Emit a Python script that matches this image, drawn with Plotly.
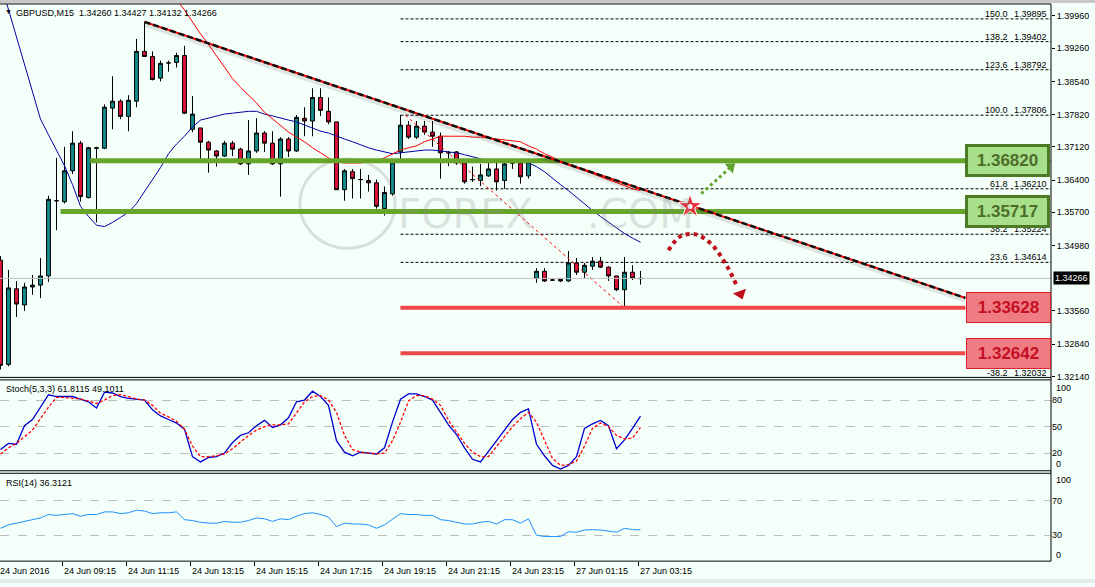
import plotly.graph_objects as go

W, H = 1095, 587

# ---------------- data ----------------
bars = list(range(81))
opens = [1.3466, 1.3240, 1.3404, 1.3369, 1.3408, 1.3412, 1.3432, 1.3595, 1.3593, 1.3660,
         1.3720, 1.3602, 1.3710, 1.3709, 1.3796, 1.3811, 1.3778, 1.3811, 1.3919, 1.3908,
         1.3861, 1.3894, 1.3895, 1.3910, 1.3750, 1.3753, 1.3722, 1.3703, 1.3692, 1.3720,
         1.3707, 1.3675, 1.3703, 1.3742, 1.3720, 1.3675, 1.3729, 1.3703, 1.3774, 1.3768,
         1.3819, 1.3789, 1.3766, 1.3619, 1.3658, 1.3641, 1.3639, 1.3634, 1.3578, 1.3610,
         1.3701, 1.3759, 1.3733, 1.3757, 1.3744, 1.3735, 1.3699, 1.3701, 1.3677, 1.3641,
         1.3639, 1.3649, 1.3664, 1.3639, 1.3677, 1.3677, 1.3649, 1.3427, 1.3442, 1.3423,
         1.3425, 1.3421, 1.3460, 1.3440, 1.3453, 1.3464, 1.3451, 1.3432, 1.3402, 1.3440,
         1.34260]
highs = [1.3475, 1.3445, 1.3421, 1.3417, 1.3434, 1.3471, 1.3606, 1.3688, 1.3712, 1.3746,
         1.3725, 1.3712, 1.3712, 1.3804, 1.3865, 1.3815, 1.3824, 1.3946, 1.3983, 1.3919,
         1.3899, 1.3899, 1.3916, 1.3931, 1.3822, 1.3753, 1.3725, 1.3705, 1.3725, 1.3725,
         1.3710, 1.3770, 1.3774, 1.3746, 1.3746, 1.3733, 1.3733, 1.3781, 1.3798, 1.3839,
         1.3839, 1.3819, 1.3766, 1.3664, 1.3664, 1.3664, 1.3651, 1.3641, 1.3626, 1.3686,
         1.3781, 1.3768, 1.3768, 1.3768, 1.3768, 1.3743, 1.3703, 1.3703, 1.3681, 1.3669,
         1.3675, 1.3679, 1.3679, 1.3679, 1.3681, 1.3686, 1.3686, 1.3449, 1.3449, 1.3425,
         1.3427, 1.3486, 1.3471, 1.3460, 1.3473, 1.3473, 1.3453, 1.3432, 1.3473, 1.3455,
         1.34427]
lows = [1.3229, 1.3236, 1.3343, 1.3356, 1.3391, 1.3384, 1.3419, 1.3531, 1.3589, 1.3653,
        1.3593, 1.3600, 1.3548, 1.3707, 1.3750, 1.3772, 1.3746, 1.3798, 1.3907, 1.3856,
        1.3854, 1.3875, 1.3884, 1.3783, 1.3744, 1.3677, 1.3656, 1.3669, 1.3690, 1.3692,
        1.3673, 1.3651, 1.3699, 1.3701, 1.3673, 1.3604, 1.3690, 1.3701, 1.3735, 1.3735,
        1.3779, 1.3761, 1.3619, 1.3595, 1.3600, 1.3600, 1.3615, 1.3578, 1.3563, 1.3606,
        1.3679, 1.3729, 1.3729, 1.3738, 1.3712, 1.3643, 1.3670, 1.3673, 1.3632, 1.3636,
        1.3627, 1.3647, 1.3617, 1.3621, 1.3664, 1.3632, 1.3643, 1.3417, 1.3419, 1.3421,
        1.3419, 1.3419, 1.3434, 1.3427, 1.3445, 1.3449, 1.3421, 1.3399, 1.3363, 1.3423,
        1.34132]
closes = [1.3238, 1.3406, 1.3371, 1.3408, 1.3412, 1.3432, 1.3598, 1.3595, 1.3660, 1.3720,
          1.3604, 1.3710, 1.3709, 1.3798, 1.3811, 1.3778, 1.3813, 1.3919, 1.3908, 1.3858,
          1.3893, 1.3894, 1.3910, 1.3785, 1.3783, 1.3722, 1.3705, 1.3692, 1.3720, 1.3707,
          1.3675, 1.3703, 1.3742, 1.3720, 1.3675, 1.3729, 1.3703, 1.3776, 1.3768, 1.3819,
          1.3791, 1.3766, 1.3619, 1.3660, 1.3643, 1.3641, 1.3634, 1.3583, 1.3613, 1.3679,
          1.3759, 1.3733, 1.3757, 1.3744, 1.3735, 1.3699, 1.3699, 1.3677, 1.3636, 1.3641,
          1.3651, 1.3664, 1.3636, 1.3675, 1.3677, 1.3647, 1.3679, 1.3442, 1.3421, 1.3423,
          1.3421, 1.3460, 1.3440, 1.3455, 1.3464, 1.3451, 1.3432, 1.3402, 1.3440, 1.3427,
          1.34266]

ma_fast = [1.4069, 1.4009, 1.3951, 1.3891, 1.3830, 1.3772, 1.3738, 1.3703, 1.3671, 1.3630,
           1.3583, 1.3561, 1.3542, 1.3539, 1.3548, 1.3559, 1.3570, 1.3589, 1.3615, 1.3641,
           1.3667, 1.3697, 1.3718, 1.3735, 1.3755, 1.3770, 1.3774, 1.3779, 1.3783, 1.3785,
           1.3787, 1.3789, 1.3789, 1.3783, 1.3779, 1.3774, 1.3770, 1.3766, 1.3759, 1.3753,
           1.3746, 1.3742, 1.3735, 1.3729, 1.3723, 1.3716, 1.3710, 1.3705, 1.3701, 1.3697,
           1.3699, 1.3701, 1.3703, 1.3705, 1.3705, 1.3703, 1.3701, 1.3699, 1.3695, 1.3690,
           1.3686, 1.3679, 1.3679, 1.3679, 1.3679, 1.3679, 1.3677, 1.3669, 1.3658, 1.3643,
           1.3630, 1.3617, 1.3602, 1.3587, 1.3574, 1.3561, 1.3548, 1.3535, 1.3524, 1.3514,
           1.3505]
ma_slow = [None] * 21 + [
           1.4063, 1.4031, 1.4009, 1.3983, 1.3957, 1.3934, 1.3910, 1.3884, 1.3860,
           1.3841, 1.3824, 1.3807, 1.3787, 1.3772, 1.3759, 1.3744, 1.3733, 1.3723, 1.3710,
           1.3699, 1.3688, 1.3679, 1.3677, 1.3677, 1.3677, 1.3679, 1.3682, 1.3688, 1.3697,
           1.3705, 1.3710, 1.3714, 1.3723, 1.3729, 1.3735, 1.3735, 1.3735, 1.3735, 1.3733,
           1.3733, 1.3731, 1.3729, 1.3727, 1.3725, 1.3723, 1.3714, 1.3707, 1.3697, 1.3690,
           1.3682, 1.3673, 1.3667, 1.3660, 1.3654, 1.3647, 1.3641, 1.3634, 1.3628, 1.3621,
           1.3617]

stoch_k = [24, 31, 30, 51, 58, 72, 86, 84, 84, 84, 81, 78, 71, 89, 88, 84, 82, 81, 80, 69,
           62, 58, 54, 47, 16, 10, 15, 16, 20, 32, 40, 43, 51, 57, 49, 52, 60, 78, 80, 90,
           84, 74, 34, 21, 17, 21, 20, 19, 26, 55, 81, 87, 87, 84, 80, 66, 52, 41, 26, 13,
           10, 22, 34, 47, 58, 66, 70, 30, 17, 6, 2, 6, 16, 48, 53, 57, 51, 25, 35, 48,
           61.8115]
stoch_d = [19, 26, 31, 38, 46, 59, 72, 83, 83, 82, 81, 79, 76, 80, 85, 86, 84, 81, 80, 74,
           65, 61, 56, 47, 28, 16, 16, 17, 19, 25, 33, 40, 46, 50, 52, 52, 53, 65, 78, 84,
           85, 80, 66, 40, 24, 21, 20, 19, 20, 34, 55, 79, 85, 85, 81, 74, 57, 44, 31, 21,
           16, 16, 27, 38, 50, 59, 66, 55, 35, 14, 6, 7, 11, 28, 48, 54, 50, 40, 36, 37,
           49.1011]
rsi = [38, 42, 44, 46, 48, 50, 54, 53, 54, 55, 52, 54, 54, 57, 57, 55, 56, 59, 58, 55,
       56, 56, 57, 48, 47, 45, 44, 44, 46, 45, 45, 47, 50, 49, 46, 49, 48, 52, 55, 56,
       54, 51, 40, 44, 43, 43, 42, 38, 42, 49, 55, 54, 54, 53, 53, 48, 47, 45, 43, 43,
       45, 46, 43, 48, 48, 44, 49, 30, 28.5, 28.5, 28.5, 34, 33.5, 36, 36.5, 36, 35, 33.5, 38, 36.5,
       36.3121]

tick_bars = [0, 8, 16, 24, 32, 40, 48, 56, 64, 72, 80]
tick_labels = ["24 Jun 2016", "24 Jun 09:15", "24 Jun 11:15", "24 Jun 13:15", "24 Jun 15:15",
               "24 Jun 17:15", "24 Jun 19:15", "24 Jun 21:15", "24 Jun 23:15", "27 Jun 01:15",
               "27 Jun 03:15"]
price_ticks = [1.39960, 1.39260, 1.38540, 1.37820, 1.37120, 1.36400, 1.35700, 1.34980,
               1.33560, 1.32840, 1.32140]
last_price = 1.34266

fib_pcts = ["150.0", "138.2", "123.6", "100.0", "76.4", "61.8", "50.0", "38.2", "23.6", "0.0", "-38.2"]
fib_levels = [1.39895, 1.39402, 1.38792, 1.37806, 1.36820, 1.36210, 1.35717, 1.35224, 1.34614,
              1.33628, 1.32032]
fib_hidden = ["76.4", "50.0", "0.0"]   # labels covered by the level boxes
fib_start_bar = 50
fib_end_bar = 78

green_levels = [1.36820, 1.35717]
green_start_bars = [11.2, 7.5]
red_levels = [1.33628, 1.32642]
red_start_bar = 50
level_end_bar = 120.6

trend_bars = [18, 120.6]
trend_prices = [1.39831, 1.33843]

# ---------------- geometry helpers ----------------
PLOT_R = 1051
XR = [-0.0625, (PLOT_R - 0.5) / 8.0]


def px(x):
    return x / W


def py(y):
    return 1 - y / H


MAIN_TOP, MAIN_BOT = 4, 380
STO_TOP, STO_BOT = 385, 474
RSI_TOP, RSI_BOT = 478, 565
p_top = 1.39960 + (16 - MAIN_TOP) / 4642.0
p_bot = 1.39960 - (MAIN_BOT - 16) / 4642.0

BG = "#F5FFFA"
FONT = "Liberation Sans, Arial, sans-serif"

fig = go.Figure()

# ---- Fib dashed lines ----
for lv in fib_levels:
    fig.add_trace(go.Scatter(x=[fib_start_bar, XR[1] + 5], y=[lv, lv], mode="lines",
                             line=dict(color="black", width=1, dash="3px,2px"),
                             hoverinfo="skip", showlegend=False, xaxis="x", yaxis="y"))
fig.add_trace(go.Scatter(x=[fib_start_bar + 0.6, fib_end_bar], y=[fib_levels[3], fib_levels[9]],
                         mode="lines", line=dict(color="red", width=1, dash="3px,3px"),
                         hoverinfo="skip", showlegend=False, xaxis="x", yaxis="y"))

# current price line
fig.add_trace(go.Scatter(x=[XR[0], XR[1]], y=[last_price, last_price], mode="lines",
                         line=dict(color="#C0C0C0", width=1), hoverinfo="skip",
                         showlegend=False, xaxis="x", yaxis="y"))

# ---- watermark ----
fig.add_shape(type="circle", xref="paper", yref="paper",
              x0=px(300), x1=px(395), y0=py(250), y1=py(160),
              line=dict(color="rgba(150,150,150,0.30)", width=3), layer="below")

# ---- Candles ----
fig.add_trace(go.Candlestick(
    x=bars, open=opens, high=highs, low=lows, close=closes,
    increasing=dict(line=dict(color="black", width=1), fillcolor="#128A8A"),
    decreasing=dict(line=dict(color="black", width=1), fillcolor="#DC143C"),
    whiskerwidth=0, hoverinfo="skip", showlegend=False, xaxis="x", yaxis="y"))

# ---- moving averages ----
fig.add_trace(go.Scatter(x=bars, y=ma_fast, mode="lines", line=dict(color="#0000A0", width=1),
                         hoverinfo="skip", showlegend=False, xaxis="x", yaxis="y"))
fig.add_trace(go.Scatter(x=bars, y=ma_slow, mode="lines", line=dict(color="#FF0000", width=1),
                         hoverinfo="skip", showlegend=False, xaxis="x", yaxis="y"))

# ---- support / resistance lines ----
for lv, sb in zip(green_levels, green_start_bars):
    fig.add_trace(go.Scatter(x=[sb, level_end_bar], y=[lv, lv], mode="lines",
                             line=dict(color="#66A42A", width=5), hoverinfo="skip",
                             showlegend=False, xaxis="x", yaxis="y"))
for lv in red_levels:
    fig.add_trace(go.Scatter(x=[red_start_bar, level_end_bar], y=[lv, lv], mode="lines",
                             line=dict(color="#EE4747", width=4), hoverinfo="skip",
                             showlegend=False, xaxis="x", yaxis="y"))

# ---- trend line ----
fig.add_trace(go.Scatter(x=trend_bars, y=[p - 0.0005 for p in trend_prices], mode="lines",
                         line=dict(color="rgba(0,0,0,0.10)", width=5), hoverinfo="skip",
                         showlegend=False, xaxis="x", yaxis="y"))
fig.add_trace(go.Scatter(x=trend_bars, y=trend_prices, mode="lines",
                         line=dict(color="#FF0000", width=2), hoverinfo="skip",
                         showlegend=False, xaxis="x", yaxis="y"))
fig.add_trace(go.Scatter(x=trend_bars, y=trend_prices, mode="lines",
                         line=dict(color="#111111", width=2.5, dash="6px,3px"), hoverinfo="skip",
                         showlegend=False, xaxis="x", yaxis="y"))

# ---- arrows ----
g_arrow_x = [87.6, 91.3]
g_arrow_y = [1.36104, 1.36686]
fig.add_trace(go.Scatter(x=g_arrow_x, y=g_arrow_y, mode="lines",
                         line=dict(color="#5FA22C", width=3, dash="dot"), hoverinfo="skip",
                         showlegend=False, xaxis="x", yaxis="y"))
fig.add_trace(go.Scatter(x=[g_arrow_x[1]], y=[g_arrow_y[1]], mode="markers",
                         marker=dict(symbol="triangle-up", size=11, angle=51, color="#5FA22C"),
                         hoverinfo="skip", showlegend=False, xaxis="x", yaxis="y"))
r_arrow_x = [83.5, 85.0, 86.9, 88.75, 90.6, 92.0]
r_arrow_y = [1.34877, 1.35180, 1.35222, 1.35028, 1.34597, 1.34120]
fig.add_trace(go.Scatter(x=r_arrow_x, y=r_arrow_y, mode="lines", line_shape="spline",
                         line=dict(color="#C0101E", width=4, dash="dot"), hoverinfo="skip",
                         showlegend=False, xaxis="x", yaxis="y"))
fig.add_trace(go.Scatter(x=[92.5], y=[1.33930], mode="markers",
                         marker=dict(symbol="triangle-up", size=12, angle=160, color="#C0101E"),
                         hoverinfo="skip", showlegend=False, xaxis="x", yaxis="y"))
fig.add_trace(go.Scatter(x=[86.2], y=[1.35825], mode="markers",
                         marker=dict(symbol="star", size=18, color="#E8303A",
                                     line=dict(color="white", width=1)),
                         hoverinfo="skip", showlegend=False, xaxis="x", yaxis="y"))
fig.add_trace(go.Scatter(x=[86.2], y=[1.35825], mode="markers",
                         marker=dict(symbol="circle", size=5, color="white"),
                         hoverinfo="skip", showlegend=False, xaxis="x", yaxis="y"))

# ---- Stochastic ----
fig.add_trace(go.Scatter(x=bars, y=stoch_k, mode="lines", line=dict(color="#0000CD", width=1.3),
                         hoverinfo="skip", showlegend=False, xaxis="x2", yaxis="y2"))
fig.add_trace(go.Scatter(x=bars, y=stoch_d, mode="lines",
                         line=dict(color="#FF0000", width=1.3, dash="3px,2px"),
                         hoverinfo="skip", showlegend=False, xaxis="x2", yaxis="y2"))
# ---- RSI ----
fig.add_trace(go.Scatter(x=bars, y=rsi, mode="lines", line=dict(color="#1E90FF", width=1),
                         hoverinfo="skip", showlegend=False, xaxis="x3", yaxis="y3"))

# ---------------- layout ----------------
common_x = dict(range=XR, showgrid=False, zeroline=False, showticklabels=False,
                domain=[0, PLOT_R / W], fixedrange=True)
fig.update_layout(
    width=W, height=H, margin=dict(l=0, r=0, t=0, b=0),
    paper_bgcolor=BG, plot_bgcolor=BG, showlegend=False,
    font=dict(family=FONT, size=9, color="black"),
    xaxis=dict(**common_x, anchor="y", rangeslider=dict(visible=False)),
    xaxis2=dict(**common_x, anchor="y2", matches="x"),
    xaxis3=dict(**common_x, anchor="y3", matches="x", ticks="outside", ticklen=4,
                tickcolor="black", tickvals=[b - 0.3 for b in tick_bars]),
    yaxis=dict(domain=[py(MAIN_BOT), py(MAIN_TOP)], range=[p_bot, p_top], side="right",
               anchor="x", tickvals=price_ticks, ticktext=["%.5f" % v for v in price_ticks],
               ticks="outside", ticklen=3, tickcolor="black", showgrid=False, zeroline=False,
               tickfont=dict(size=9, family=FONT)),
    yaxis2=dict(domain=[py(STO_BOT), py(STO_TOP)], range=[0, 100], side="right", anchor="x2",
                tickvals=[80, 50, 20], ticks="", showgrid=True, gridcolor="#BEBEBE",
                griddash="dash", gridwidth=1, zeroline=False, tickfont=dict(size=9, family=FONT)),
    yaxis3=dict(domain=[py(RSI_BOT), py(RSI_TOP)], range=[0, 100], side="right", anchor="x3",
                tickvals=[70, 30], ticks="", showgrid=True, gridcolor="#BEBEBE",
                griddash="dash", gridwidth=1, zeroline=False, tickfont=dict(size=9, family=FONT)),
)

# ---- panel borders ----
shapes = []
shapes.append(dict(type="rect", xref="paper", yref="paper", x0=0, x1=1, y0=py(3), y1=1,
                   fillcolor="#C8C8C8", line=dict(width=0)))
for yy in [MAIN_TOP, MAIN_BOT, MAIN_BOT + 2.5, STO_BOT, STO_BOT + 2.5, RSI_BOT]:
    shapes.append(dict(type="line", xref="paper", yref="paper", x0=0, x1=px(PLOT_R),
                       y0=py(yy), y1=py(yy), line=dict(color="black", width=1)))
shapes.append(dict(type="line", xref="paper", yref="paper", x0=px(PLOT_R), x1=px(PLOT_R),
                   y0=py(RSI_BOT), y1=py(MAIN_TOP), line=dict(color="black", width=1)))
shapes.append(dict(type="rect", xref="paper", yref="paper", x0=0, x1=1, y0=0, y1=py(583),
                   fillcolor="#E4ECEA", line=dict(width=0)))
for s in shapes:
    fig.add_shape(**s)

ann = []
ann.append(dict(text="\u25BC", x=px(3), y=py(12), xref="paper", yref="paper", xanchor="left",
                yanchor="middle", showarrow=False, font=dict(size=7, color="black")))
ann.append(dict(text="GBPUSD,M15\u00a0\u00a01.34260 1.34427 1.34132 1.34266", x=px(14), y=py(13),
                xref="paper", yref="paper", xanchor="left", yanchor="middle", showarrow=False,
                font=dict(size=9, color="black")))
# watermark
ann.append(dict(text="FOREX", x=px(465), y=py(190), xref="paper", yref="paper", showarrow=False,
                font=dict(size=40, color="rgba(140,140,140,0.25)", family="DejaVu Sans")))
ann.append(dict(text=".COM", x=px(640), y=py(190), xref="paper", yref="paper", showarrow=False,
                font=dict(size=40, color="rgba(140,140,140,0.25)", family="DejaVu Sans")))
# fib labels
for pct, lv in zip(fib_pcts, fib_levels):
    if pct in fib_hidden:
        continue
    if lv > p_bot:
        kw = dict(y=lv, yref="y", yanchor="bottom", yshift=-2)
    else:
        kw = dict(y=py(376), yref="paper", yanchor="middle")
    ann.append(dict(text=pct, x=px(1010), xref="paper", xanchor="right",
                    showarrow=False, font=dict(size=9), **kw))
    ann.append(dict(text="%.5f" % lv, x=px(1049), xref="paper", xanchor="right",
                    showarrow=False, font=dict(size=9), **kw))
# level boxes
for lv in green_levels:
    ann.append(dict(text="<b>%.5f</b>" % lv, x=px(1007.5), y=lv, xref="paper", yref="y",
                    xanchor="center", yanchor="middle",
                    showarrow=False, bgcolor="#A8DF8A", bordercolor="#4C7A25", borderwidth=3,
                    borderpad=0, width=79, height=27,
                    font=dict(size=17, color="#4D6D2A", family=FONT)))
for lv in red_levels:
    ann.append(dict(text="<b>%.5f</b>" % lv, x=px(1008.5), y=lv, xref="paper", yref="y",
                    xanchor="center", yanchor="middle",
                    showarrow=False, bgcolor="#EF7C82", bordercolor="#D8232B", borderwidth=1,
                    borderpad=0, width=83, height=29,
                    font=dict(size=17, color="#C40F24", family=FONT)))
# current price tag
ann.append(dict(text="1.34266", x=px(1053), y=last_price, xref="paper", yref="y",
                xanchor="left", yanchor="middle", showarrow=False, bgcolor="black", borderpad=1,
                font=dict(size=9, color="white")))
# indicator labels
ann.append(dict(text="Stoch(5,3,3) 61.8115 49.1011", x=px(4), y=py(392), xref="paper",
                yref="paper", xanchor="left", yanchor="middle", showarrow=False,
                font=dict(size=9)))
ann.append(dict(text="RSI(14) 36.3121", x=px(4), y=py(486), xref="paper", yref="paper",
                xanchor="left", yanchor="middle", showarrow=False, font=dict(size=9)))
for t, yy in [("100", 390.5), ("0", 467.5), ("100", 483.5), ("0", 559)]:
    ann.append(dict(text=t, x=px(1054), y=py(yy), xref="paper", yref="paper", xanchor="left",
                    yanchor="middle", showarrow=False, font=dict(size=9)))
# time labels
for b, t in zip(tick_bars, tick_labels):
    ann.append(dict(text=t, x=b, y=py(575), xref="x3", yref="paper", xanchor="left",
                    yanchor="middle", xshift=-3, showarrow=False, font=dict(size=9)))
fig.update_layout(annotations=ann)

fig.write_html("out.html")
